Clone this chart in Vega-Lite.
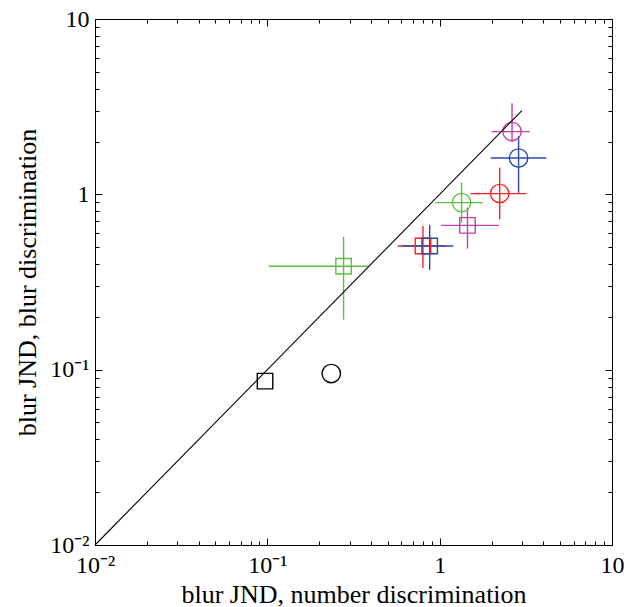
{
  "$schema": "https://vega.github.io/schema/vega-lite/v6.json",
  "autosize": "none",
  "width": 517,
  "height": 526,
  "padding": {"left": 95, "top": 19, "right": 18, "bottom": 62},
  "background": "white",
  "config": {
    "view": {"stroke": "black", "strokeWidth": 1},
    "axis": {
      "labelFont": "Liberation Serif",
      "labelFontSize": 24,
      "labelColor": "black",
      "titleFont": "Liberation Serif",
      "titleFontSize": 26,
      "titleFontWeight": "normal",
      "titleColor": "black",
      "domainColor": "black",
      "tickColor": "black",
      "grid": false
    }
  },
  "datasets": {
    "pts": [
      {"cond": "magenta", "type": "circle", "x": 2.63, "y": 2.28, "xlo": 2.0, "xhi": 3.34, "ylo": 2.0, "yhi": 3.31},
      {"cond": "blue", "type": "circle", "x": 2.87, "y": 1.61, "xlo": 1.98, "xhi": 4.16, "ylo": 1.02, "yhi": 2.15},
      {"cond": "red", "type": "circle", "x": 2.23, "y": 1.01, "xlo": 1.51, "xhi": 3.19, "ylo": 0.72, "yhi": 1.42},
      {"cond": "green", "type": "circle", "x": 1.34, "y": 0.897, "xlo": 0.944, "xhi": 1.78, "ylo": 0.69, "yhi": 1.17},
      {"cond": "magenta", "type": "square", "x": 1.45, "y": 0.665, "xlo": 1.02, "xhi": 2.2, "ylo": 0.49, "yhi": 0.84},
      {"cond": "red", "type": "square", "x": 0.80, "y": 0.507, "xlo": 0.57, "xhi": 1.09, "ylo": 0.38, "yhi": 0.66},
      {"cond": "blue", "type": "square", "x": 0.875, "y": 0.507, "xlo": 0.61, "xhi": 1.2, "ylo": 0.37, "yhi": 0.67},
      {"cond": "green", "type": "square", "x": 0.277, "y": 0.389, "xlo": 0.102, "xhi": 0.383, "ylo": 0.193, "yhi": 0.573},
      {"cond": "black", "type": "square", "x": 0.097, "y": 0.086},
      {"cond": "black", "type": "circle", "x": 0.235, "y": 0.095}
    ],
    "diag": [
      {"x": 0.01, "y": 0.01},
      {"x": 3, "y": 3}
    ]
  },
  "layer": [
    {
      "data": {"name": "pts"},
      "transform": [{"filter": "isValid(datum.xlo)"}],
      "mark": {"type": "rule", "strokeWidth": 1.4},
      "encoding": {
        "x": {"field": "xlo", "type": "quantitative", "scale": {"type": "log", "domain": [0.01, 10], "nice": false},
          "axis": {"orient": "bottom", "title": "blur JND, number discrimination",
            "values": [0.01,0.02,0.03,0.04,0.05,0.06,0.07,0.08,0.09,0.1,0.2,0.3,0.4,0.5,0.6,0.7,0.8,0.9,1,2,3,4,5,6,7,8,9,10],
            "labelExpr": "datum.value == 0.01 ? '10⁻²' : datum.value == 0.1 ? '10⁻¹' : datum.value == 1 ? '1' : datum.value == 10 ? '10' : ''",
            "tickSize": {"condition": {"test": "datum.value == 0.1 || datum.value == 1", "value": -7}, "value": -4},
            "labelPadding": {"condition": {"test": "datum.value == 0.1 || datum.value == 1", "value": 15}, "value": 12},
            "titleX": 258.5, "titleY": 57, "titleBaseline": "alphabetic", "titleAlign": "center",
            "labelFlush": false, "labelOverlap": false}},
        "x2": {"field": "xhi"},
        "y": {"field": "y", "type": "quantitative", "scale": {"type": "log", "domain": [0.01, 10], "nice": false},
          "axis": {"orient": "left", "title": "blur JND, blur discrimination",
            "values": [0.01,0.02,0.03,0.04,0.05,0.06,0.07,0.08,0.09,0.1,0.2,0.3,0.4,0.5,0.6,0.7,0.8,0.9,1,2,3,4,5,6,7,8,9,10],
            "labelExpr": "datum.value == 0.01 ? '10⁻²' : datum.value == 0.1 ? '10⁻¹' : datum.value == 1 ? '1' : datum.value == 10 ? '10' : ''",
            "tickSize": {"condition": {"test": "datum.value == 0.1 || datum.value == 1", "value": -7}, "value": -4},
            "labelPadding": {"condition": {"test": "datum.value == 0.1 || datum.value == 1", "value": 13}, "value": 10},
            "titleX": -68, "titleY": 263, "titleAngle": 270, "titleBaseline": "middle", "titleAlign": "center",
            "labelFlush": false, "labelOverlap": false}},
        "color": {"field": "cond", "type": "nominal", "legend": null,
          "scale": {"domain": ["magenta", "blue", "red", "green", "black"], "range": ["#c040a8", "#2a4aa8", "#ff2020", "#5cc040", "#000000"]}}
      }
    },
    {
      "data": {"name": "pts"},
      "transform": [{"filter": "isValid(datum.ylo)"}],
      "mark": {"type": "rule", "strokeWidth": 1.4},
      "encoding": {
        "x": {"field": "x", "type": "quantitative", "scale": {"type": "log", "domain": [0.01, 10], "nice": false}, "axis": null},
        "y": {"field": "ylo", "type": "quantitative", "scale": {"type": "log", "domain": [0.01, 10], "nice": false}, "axis": null},
        "y2": {"field": "yhi"},
        "color": {"field": "cond", "type": "nominal", "legend": null}
      }
    },
    {
      "data": {"name": "pts"},
      "mark": {"type": "point", "filled": false, "strokeWidth": 1.4, "opacity": 1},
      "encoding": {
        "x": {"field": "x", "type": "quantitative", "scale": {"type": "log", "domain": [0.01, 10], "nice": false}, "axis": null},
        "y": {"field": "y", "type": "quantitative", "scale": {"type": "log", "domain": [0.01, 10], "nice": false}, "axis": null},
        "shape": {"field": "type", "type": "nominal", "legend": null, "scale": {"domain": ["circle", "square"], "range": ["circle", "square"]}},
        "size": {"field": "type", "type": "nominal", "legend": null, "scale": {"domain": ["circle", "square"], "range": [340, 240]}},
        "color": {"field": "cond", "type": "nominal", "legend": null}
      }
    },
    {
      "data": {"name": "diag"},
      "mark": {"type": "line", "color": "black", "strokeWidth": 1.1},
      "encoding": {
        "x": {"field": "x", "type": "quantitative", "scale": {"type": "log", "domain": [0.01, 10], "nice": false}, "axis": null},
        "y": {"field": "y", "type": "quantitative", "scale": {"type": "log", "domain": [0.01, 10], "nice": false}, "axis": null}
      }
    },
    {
      "data": {"name": "diag"},
      "mark": {"type": "point", "opacity": 0},
      "encoding": {
        "x": {"field": "x", "type": "quantitative", "scale": {"type": "log", "domain": [0.01, 10], "nice": false},
          "axis": {"orient": "top", "title": null, "labels": false,
            "values": [0.01,0.02,0.03,0.04,0.05,0.06,0.07,0.08,0.09,0.1,0.2,0.3,0.4,0.5,0.6,0.7,0.8,0.9,1,2,3,4,5,6,7,8,9,10],
            "tickSize": {"condition": {"test": "datum.value == 0.1 || datum.value == 1", "value": -7}, "value": -4}}},
        "y": {"field": "y", "type": "quantitative", "scale": {"type": "log", "domain": [0.01, 10], "nice": false},
          "axis": {"orient": "right", "title": null, "labels": false,
            "values": [0.01,0.02,0.03,0.04,0.05,0.06,0.07,0.08,0.09,0.1,0.2,0.3,0.4,0.5,0.6,0.7,0.8,0.9,1,2,3,4,5,6,7,8,9,10],
            "tickSize": {"condition": {"test": "datum.value == 0.1 || datum.value == 1", "value": -7}, "value": -4}}}
      }
    }
  ],
  "resolve": {"axis": {"x": "independent", "y": "independent"}}
}
